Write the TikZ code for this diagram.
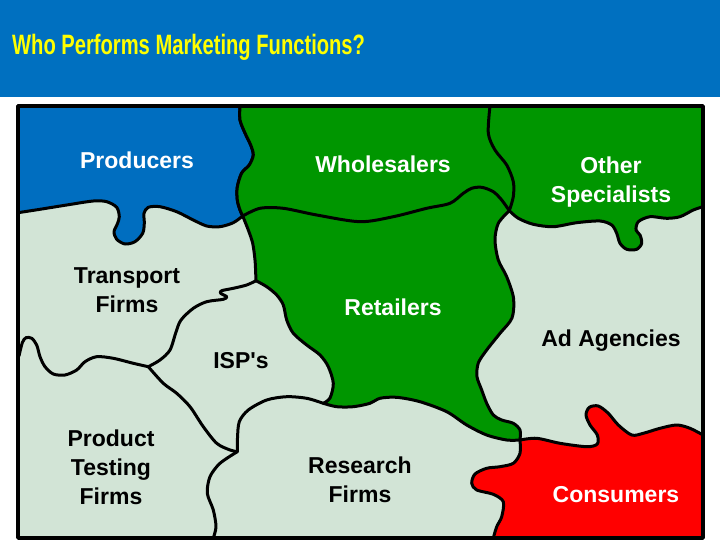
\documentclass[tikz,border=0pt]{standalone}
\usepackage{graphicx}
\usepackage{fontspec}
\newfontfamily\lab{Liberation Sans}
\definecolor{hdr}{RGB}{0,112,192}
\definecolor{ttl}{RGB}{255,255,0}
\definecolor{lite}{RGB}{210,228,214}
\definecolor{grn}{RGB}{0,150,0}
\definecolor{prod}{RGB}{0,110,192}
\definecolor{cons}{RGB}{255,0,0}
\begin{document}
\begin{tikzpicture}[x=1pt,y=-1pt,line join=round,line cap=round,
  edge/.style={draw=black,line width=3pt},
  wlabel/.style={text=white,align=center,font=\lab\bfseries\fontsize{23}{29}\selectfont},
  blabel/.style={text=black,align=center,font=\lab\bfseries\fontsize{23}{29}\selectfont}]
\useasboundingbox (0,0) rectangle (720,540);
\fill[white] (0,0) rectangle (720,540);
\fill[hdr] (0,0) rectangle (720,97);
\node[anchor=base west,inner sep=0pt,text=ttl,font=\lab\bfseries\fontsize{28}{30}\selectfont] (title) at (12,55) {\scalebox{0.72}[1]{Who Performs Marketing Functions?}};
% panel background
\fill[lite] (18,106) rectangle (703,538);
% Producers
\filldraw[fill=prod,edge] (18,106) -- (240,106)
  -- plot[smooth] coordinates {(240,106) (240,120) (245,133) (250.7,145) (253.3,155) (249.3,165) (241.7,173) (237.3,187) (237.3,200) (240,210) (242.7,216)}
  -- plot[smooth] coordinates {(242.7,216) (233.3,222.7) (220,226.7) (206.7,226) (193.3,220) (176.7,211.7) (160,206.7) (148.3,207.3) (144,213.3) (144.3,223.3) (142.7,233.3) (135,241.7) (125,244) (116.7,239.3) (114,231.7) (117.3,224) (119.3,216.7) (116.7,207.3) (106.7,201.7) (93.3,201) (66.7,205) (40,209.3) (18,212.7)}
  -- cycle;
% Wholesalers + Retailers + Other Specialists
\filldraw[fill=grn,edge] (703,106) -- (240,106)
  -- plot[smooth] coordinates {(240,106) (240,120) (245,133) (250.7,145) (253.3,155) (249.3,165) (241.7,173) (237.3,187) (237.3,200) (240,210) (242.7,216)}
  -- plot[smooth] coordinates {(242.7,216) (248.3,230) (252.7,243.3) (255,260) (255.7,273.3) (256,280.7)}
  -- plot[smooth] coordinates {(256,280.7) (266.7,286.7) (276.7,295) (283.3,305) (286.7,320) (293.3,333.3) (306.7,345) (320,355) (328.3,366.7) (333.3,383.3) (330,398) (323.3,403.3)}
  -- plot[smooth] coordinates {(323.3,403.3) (336.7,406.7) (353.3,406.7) (370,403.3) (380,398.3) (396.7,397.3) (420,401.7) (446.7,411.7) (466.7,425) (486.7,435) (506.7,440) (520,440)}
  -- plot[smooth] coordinates {(520,440) (520,430) (513.3,423.3) (501.7,420) (493.3,415) (486.7,403.3) (481.7,390) (477,376.7) (478.3,363) (486.7,350) (500,333.3) (512,318) (513.5,298) (506.7,276.7) (498.3,260) (495,240) (498.3,223.3) (509.3,210.7)}
  -- plot[smooth] coordinates {(509.3,210.7) (518.3,218.3) (533.3,224.3) (553.3,226.7) (576.7,222.7) (600,221) (611.7,225) (616.7,233.3) (620,243.3) (626.7,249.3) (636.7,249.3) (641.7,243.3) (640,235) (636,230) (638.3,221.7) (650,216.7) (666.7,218.3) (680,216.7) (693.3,210) (703,206.7)}
  -- cycle;
% Consumers
\filldraw[fill=cons,edge] plot[smooth] coordinates {(493.3,538) (496.7,526.7) (501.7,516.7) (503.3,501.7) (493.3,494.3) (476.7,490) (471.7,483.3) (475,474) (486.7,468.3) (500,466.7) (513.3,463.3) (520,453.3) (520,440)}
  -- plot[smooth] coordinates {(520,440) (536.7,438.3) (560,443.3) (586.7,446.7) (597.3,444) (597.3,435) (590,425) (586,415) (589.3,407.3) (598.3,406) (608.3,413.3) (618.3,425) (631.7,435) (643.3,433.3) (660,428.3) (676.7,425) (690,428.3) (703,435)}
  -- (703,538) -- cycle;
% Wholesalers / Retailers
\draw[edge] plot[smooth] coordinates {(242.7,216) (260,208.3) (283.3,208.3) (316.7,215) (360,221.7) (393.3,216.7) (426.7,208.3) (450,203.3) (463.3,193.3) (471.7,188.3) (481.7,187.3) (493.3,191.7) (501.7,200) (509.3,210.7)};
% Wholesalers / Other Specialists
\draw[edge] plot[smooth] coordinates {(490,106) (488.3,133.3) (495,150) (506.7,165) (513.3,181.7) (513.3,196.7) (509.3,210.7)};
% Transport / ISP
\draw[edge] plot[smooth] coordinates {(256,280.7) (246.7,285) (233.3,288.3) (221.7,290.7) (220.7,293.3) (226.7,296.7) (223.3,299.3) (206.7,301.7) (193.3,308.3) (181,320) (176,332) (170,350) (160,360) (148.3,366.7)};
% Transport / Product Testing
\draw[edge] plot[smooth] coordinates {(148.3,366.7) (133.3,363.3) (113.3,358.3) (96.7,356.7) (85,361.7) (76.7,370) (65,375) (53.3,374) (45,366.7) (40,356.7) (36.7,345) (31.7,338.3) (26,337.7) (22.3,342.7) (19,356)};
% ISP / Product Testing
\draw[edge] plot[smooth] coordinates {(148.3,366.7) (163.3,383.3) (176.7,393.3) (190,406.7) (203.3,426.7) (216.7,443.3) (230,450) (237.3,451.7)};
% ISP / Research
\draw[edge] plot[smooth] coordinates {(237.3,451.7) (237.5,438) (239.3,421.7) (248.3,410) (266.7,400) (286.7,396.7) (306.7,398.3) (323.3,403.3)};
% Product Testing / Research
\draw[edge] plot[smooth] coordinates {(237.3,451.7) (220,463.3) (210,476.7) (207.3,493.3) (213.3,510) (216,526.7) (213.3,538)};
% outer frame
\draw[line width=3.5pt] (18,106) rectangle (703,538);
% labels
\node[wlabel] (producers) at (137,160) {Producers};
\node[wlabel] (wholesalers) at (383,164) {Wholesalers};
\node[wlabel] (other) at (611,182) {Other\\Specialists};
\node[blabel] (transport) at (127,290) {Transport\\Firms};
\node[wlabel] (retailers) at (393,307) {Retailers};
\node[blabel] (ad) at (611,341) {Ad Agencies};
\node[blabel] (isp) at (241,361) {ISP's};
\node[blabel] (testing) at (111,467) {Product\\Testing\\Firms};
\node[blabel] (research) at (360,480) {Research\\Firms};
\node[wlabel] (consumers) at (616,495) {Consumers};
\end{tikzpicture}
\end{document}
